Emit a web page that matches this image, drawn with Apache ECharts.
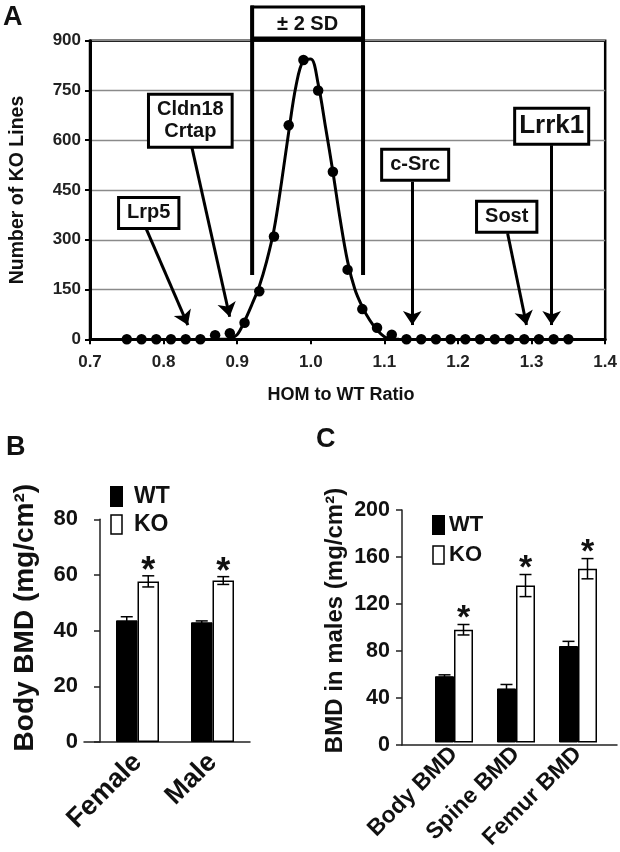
<!DOCTYPE html>
<html>
<head>
<meta charset="utf-8">
<script src="https://cdn.jsdelivr.net/npm/echarts@6/dist/echarts.min.js"></script>
<style>
html,body{margin:0;padding:0;background:#fff;}
#chart{width:620px;height:852px;}
</style>
</head>
<body>
<div id="chart"></div>
<script>
// ---------- Panel A data ----------
const dotX = [0.75,0.77,0.79,0.81,0.83,0.85,0.87,0.89,0.91,0.93,0.95,0.97,0.99,1.01,1.03,1.05,1.07,1.09,1.11,1.13,1.15,1.17,1.19,1.21,1.23,1.25,1.27,1.29,1.31,1.33,1.35];
const dotY = [0,0,0,0,0,0,12,18,50,145,310,645,842,750,505,210,91,35,14,0,0,0,0,0,0,0,0,0,0,0,0];
const curveX = [0.87,0.88,0.89,0.90,0.91,0.92,0.93,0.94,0.95,0.96,0.97,0.98,0.99,1.00,1.01,1.02,1.03,1.04,1.05,1.06,1.07,1.08,1.09,1.10,1.11,1.12];
const curveY = [0,0,2,14,55,105,160,235,330,470,625,765,840,845,770,640,505,360,235,150,98,58,28,8,0,0];
const yTicksA = [0,150,300,450,600,750,900];
const sdRange = [0.9203, 1.071];
const sdLineBottom = 194;
const annotations = [
  {text:'Lrp5',           box:[0.7798,381], from:[0.7767,331.5], to:[0.833,43],  big:false},
  {text:'Cldn18\nCrtap',  box:[0.8363,659], from:[0.8383,580],   to:[0.8898,68], big:false},
  {text:'c-Src',          box:[1.1418,526], from:[1.1379,475],   to:[1.1379,43], big:false},
  {text:'Sost',           box:[1.2662,369], from:[1.2674,319.5], to:[1.2931,43], big:false},
  {text:'Lrrk1',          box:[1.3273,642], from:[1.3273,585],   to:[1.3273,43], big:true}
];
// ---------- Panel B data ----------
const catB = ['Female','Male'];
const wtB = [43.7, 43.0];
const wtBErr = [1.3, 0.5];
const koB = [57.7, 58.0];
const koBErr = [2.0, 1.4];
const starB = [1, 1];
// ---------- Panel C data ----------
const catC = ['Body BMD','Spine BMD','Femur BMD'];
const wtC = [57, 46.5, 83];
const wtCErr = [1.2, 3.4, 4.0];
const koC = [97, 135, 149.5];
const koCErr = [4.5, 9.5, 8.7];
const starC = [1, 1, 1];

const FF = "'Liberation Sans', Arial, sans-serif";
const INK = '#111';

const chart = echarts.init(document.getElementById('chart'), null, {renderer:'canvas'});

function errSeries(name, xi, yi, values, errs, side, stars, barW, starSize, starGap) {
  const data = values.map((v,i)=>[i, v, errs[i], side, stars ? stars[i] : 0]);
  return {
    type:'custom', name: name, xAxisIndex:xi, yAxisIndex:yi, z:5,
    data: data,
    renderItem: function(params, api){
      const cat = api.value(0), val = api.value(1), err = api.value(2), sd = api.value(3), st = api.value(4);
      const t = api.coord([cat, val+err]);
      const b = api.coord([cat, val-err]);
      const x = t[0] + sd*barW/2;
      const cap = 6;
      const st1 = {stroke:'#000', lineWidth:1.5};
      const ch = [
        {type:'line', shape:{x1:x,y1:t[1],x2:x,y2:b[1]}, style:st1},
        {type:'line', shape:{x1:x-cap,y1:t[1],x2:x+cap,y2:t[1]}, style:st1},
        {type:'line', shape:{x1:x-cap,y1:b[1],x2:x+cap,y2:b[1]}, style:st1}
      ];
      if (st) {
        ch.push({type:'text', style:{text:'*', x:x, y:t[1]-starGap, align:'center', verticalAlign:'middle',
          font:'bold '+starSize+'px '+FF, fill:INK}});
      }
      return {type:'group', children:ch};
    }
  };
}

const labelBold = (size)=>({fontFamily:FF, fontWeight:'bold', fontSize:size, color:INK});

const option = {
  animation:false,
  backgroundColor:'#fff',
  title:[
    {text:'A', left:3, top:4, padding:0, textStyle:labelBold(27)},
    {text:'B', left:6, top:434, padding:0, textStyle:labelBold(27)},
    {text:'C', left:316, top:426, padding:0, textStyle:labelBold(27)}
  ],
  legend:[
    {left:110, top:485, padding:0, orient:'vertical', itemWidth:11, itemHeight:19, itemGap:5, icon:'rect',
     textStyle:Object.assign(labelBold(23), {padding:[0,0,0,7]}),
     data:[{name:'WT', itemStyle:{color:'#000'}}, {name:'KO', itemStyle:{color:'#fff', borderColor:'#000', borderWidth:1.5}}]},
    {left:432, top:514, padding:0, orient:'vertical', itemWidth:11, itemHeight:18, itemGap:8, icon:'rect',
     textStyle:Object.assign(labelBold(22), {padding:[0,0,0,0]}),
     data:[{name:'WT', itemStyle:{color:'#000'}}, {name:'KO', itemStyle:{color:'#fff', borderColor:'#000', borderWidth:1.5}}]}
  ],
  grid:[
    {left:80, top:40.7, width:526, height:298.6, show:true, borderColor:'#000', borderWidth:2.5, backgroundColor:'transparent'},
    {left:84, top:519.3, width:166, height:222.7},
    {left:100, top:519.3, width:150, height:222.7},
    {left:402, top:510, width:215, height:235},
    {left:423, top:510, width:186, height:235}
  ],
  xAxis:[
    {gridIndex:0, type:'value', min:0.7, max:1.4, interval:0.1,
     name:'HOM to WT Ratio', nameLocation:'middle', nameGap:47,
     nameTextStyle:Object.assign(labelBold(18), {padding:[0,13,0,0]}),
     axisLine:{lineStyle:{color:'#000', width:3}},
     axisTick:{show:true, length:5, lineStyle:{color:'#000', width:2}},
     axisLabel:Object.assign(labelBold(17), {margin:15, color:'#222', formatter:v=>v.toFixed(1)}),
     splitLine:{show:false}},
    {gridIndex:1, type:'value', min:0, max:1, show:true,
     axisLine:{lineStyle:{color:'#222', width:1.5}}, axisTick:{show:false}, axisLabel:{show:false}, splitLine:{show:false}},
    {gridIndex:2, type:'category', data:catB,
     axisLine:{show:false}, axisTick:{show:false},
     axisLabel:Object.assign(labelBold(27), {rotate:45, margin:16, interval:0})},
    {gridIndex:3, type:'value', min:0, max:1,
     axisLine:{lineStyle:{color:'#222', width:1.5}}, axisTick:{show:false}, axisLabel:{show:false}, splitLine:{show:false}},
    {gridIndex:4, type:'category', data:catC,
     axisLine:{show:false}, axisTick:{show:false},
     axisLabel:Object.assign(labelBold(23), {rotate:45, margin:8, interval:0})}
  ],
  yAxis:[
    {gridIndex:0, type:'value', min:0, max:900, interval:150,
     name:'Number of KO Lines', nameLocation:'middle', nameGap:62,
     nameTextStyle:labelBold(19.5),
     axisLine:{show:true, lineStyle:{color:'#000', width:3}},
     axisTick:{show:true, length:5, lineStyle:{color:'#000', width:2}},
     axisLabel:Object.assign(labelBold(17), {margin:9, color:'#222'}),
     splitLine:{show:true, lineStyle:{color:'#8a8a8a', width:1.3}}},
    {gridIndex:1, type:'value', min:0, max:80, show:false},
    {gridIndex:2, type:'value', min:0, max:80, interval:20,
     name:'Body BMD (mg/cm²)', nameLocation:'middle', nameGap:61,
     nameTextStyle:Object.assign(labelBold(28), {padding:[0,0,0,26]}),
     axisLine:{show:true, lineStyle:{color:'#222', width:1.5}},
     axisTick:{show:true, length:6, lineStyle:{color:'#222', width:1.5}},
     axisLabel:Object.assign(labelBold(22), {margin:22}),
     splitLine:{show:false}},
    {gridIndex:3, type:'value', min:0, max:200, interval:40,
     name:'BMD in males (mg/cm²)', nameLocation:'middle', nameGap:55,
     nameTextStyle:Object.assign(labelBold(24), {padding:[0,0,0,14]}),
     axisLine:{show:true, lineStyle:{color:'#222', width:1.5}},
     axisTick:{show:true, length:6, lineStyle:{color:'#222', width:1.5}},
     axisLabel:Object.assign(labelBold(21.5), {margin:12}),
     splitLine:{show:false}},
    {gridIndex:4, type:'value', min:0, max:200, show:false}
  ],
  series:[
    {type:'line', name:'fit', xAxisIndex:0, yAxisIndex:0, smooth:0.35, showSymbol:false, symbol:'none',
     data: curveX.map((x,i)=>[x, curveY[i]]), lineStyle:{color:'#000', width:3}, z:3},
    {type:'scatter', name:'KO lines', xAxisIndex:0, yAxisIndex:0, symbolSize:10.5,
     data: dotX.map((x,i)=>[x, dotY[i]]), itemStyle:{color:'#000', opacity:1}, z:4,
     markLine:{silent:true, symbol:['none','arrow'], symbolSize:14, animation:false,
       itemStyle:{color:'#000'},
       lineStyle:{color:'#000', width:3, type:'solid'}, label:{show:false},
       data: annotations.map(a=>[{coord:a.from, symbol:'none'}, {coord:a.to, symbol:'arrow', symbolSize:14}])},
     markPoint:{silent:true, symbol:'rect', symbolSize:1, itemStyle:{color:'rgba(0,0,0,0)'},
       data: annotations.map(a=>({coord:a.box, value:a.text,
         label:{show:true, position:'inside', formatter:a.text, color:INK, fontFamily:FF, fontWeight:'bold',
           fontSize:a.big?26:20, lineHeight:a.big?29:22, backgroundColor:'#fff', borderColor:'#000', borderWidth:3,
           padding:a.big?[2,3]:[3,7]}}))}},
    {type:'bar', name:'WT', xAxisIndex:2, yAxisIndex:2, data:wtB, barWidth:21.5, barGap:'0%',
     itemStyle:{color:'#000', borderColor:'#000', borderWidth:1}},
    {type:'bar', name:'KO', xAxisIndex:2, yAxisIndex:2, data:koB, barWidth:21.5, barGap:'0%',
     itemStyle:{color:'#fff', borderColor:'#000', borderWidth:1.5}},
    errSeries('WT err B', 2, 2, wtB, wtBErr, -1, null, 21.5, 36, 4),
    errSeries('KO err B', 2, 2, koB, koBErr, 1, starB, 21.5, 36, 4),
    {type:'bar', name:'WT', xAxisIndex:4, yAxisIndex:4, data:wtC, barWidth:19, barGap:'0%',
     itemStyle:{color:'#000', borderColor:'#000', borderWidth:1}},
    {type:'bar', name:'KO', xAxisIndex:4, yAxisIndex:4, data:koC, barWidth:19, barGap:'0%',
     itemStyle:{color:'#fff', borderColor:'#000', borderWidth:1.5}},
    errSeries('WT err C', 4, 4, wtC, wtCErr, -1, null, 19, 34, 6),
    errSeries('KO err C', 4, 4, koC, koCErr, 1, starC, 19, 34, 6)
  ]
};
chart.setOption(option);

// ± 2 SD bracket, positioned from data values via the axes
const pL = chart.convertToPixel({gridIndex:0}, [sdRange[0], sdLineBottom]);
const pR = chart.convertToPixel({gridIndex:0}, [sdRange[1], sdLineBottom]);
const boxTop = 7, boxBot = 39;
chart.setOption({graphic:[
  {type:'rect', z:50, shape:{x:pL[0], y:boxTop, width:pR[0]-pL[0], height:boxBot-boxTop}, style:{fill:'#fff', stroke:'#000', lineWidth:3}},
  {type:'line', z:51, shape:{x1:pL[0], y1:boxBot, x2:pR[0], y2:boxBot}, style:{stroke:'#000', lineWidth:5}},
  {type:'line', z:51, shape:{x1:pL[0], y1:boxTop-1.5, x2:pL[0], y2:pL[1]}, style:{stroke:'#000', lineWidth:4}},
  {type:'line', z:51, shape:{x1:pR[0], y1:boxTop-1.5, x2:pR[0], y2:pR[1]}, style:{stroke:'#000', lineWidth:4}},
  {type:'text', z:52, style:{text:'± 2 SD', x:(pL[0]+pR[0])/2, y:(boxTop+boxBot)/2+1, align:'center', verticalAlign:'middle',
    font:'bold 20px '+FF, fill:INK}}
]});
</script>
</body>
</html>
